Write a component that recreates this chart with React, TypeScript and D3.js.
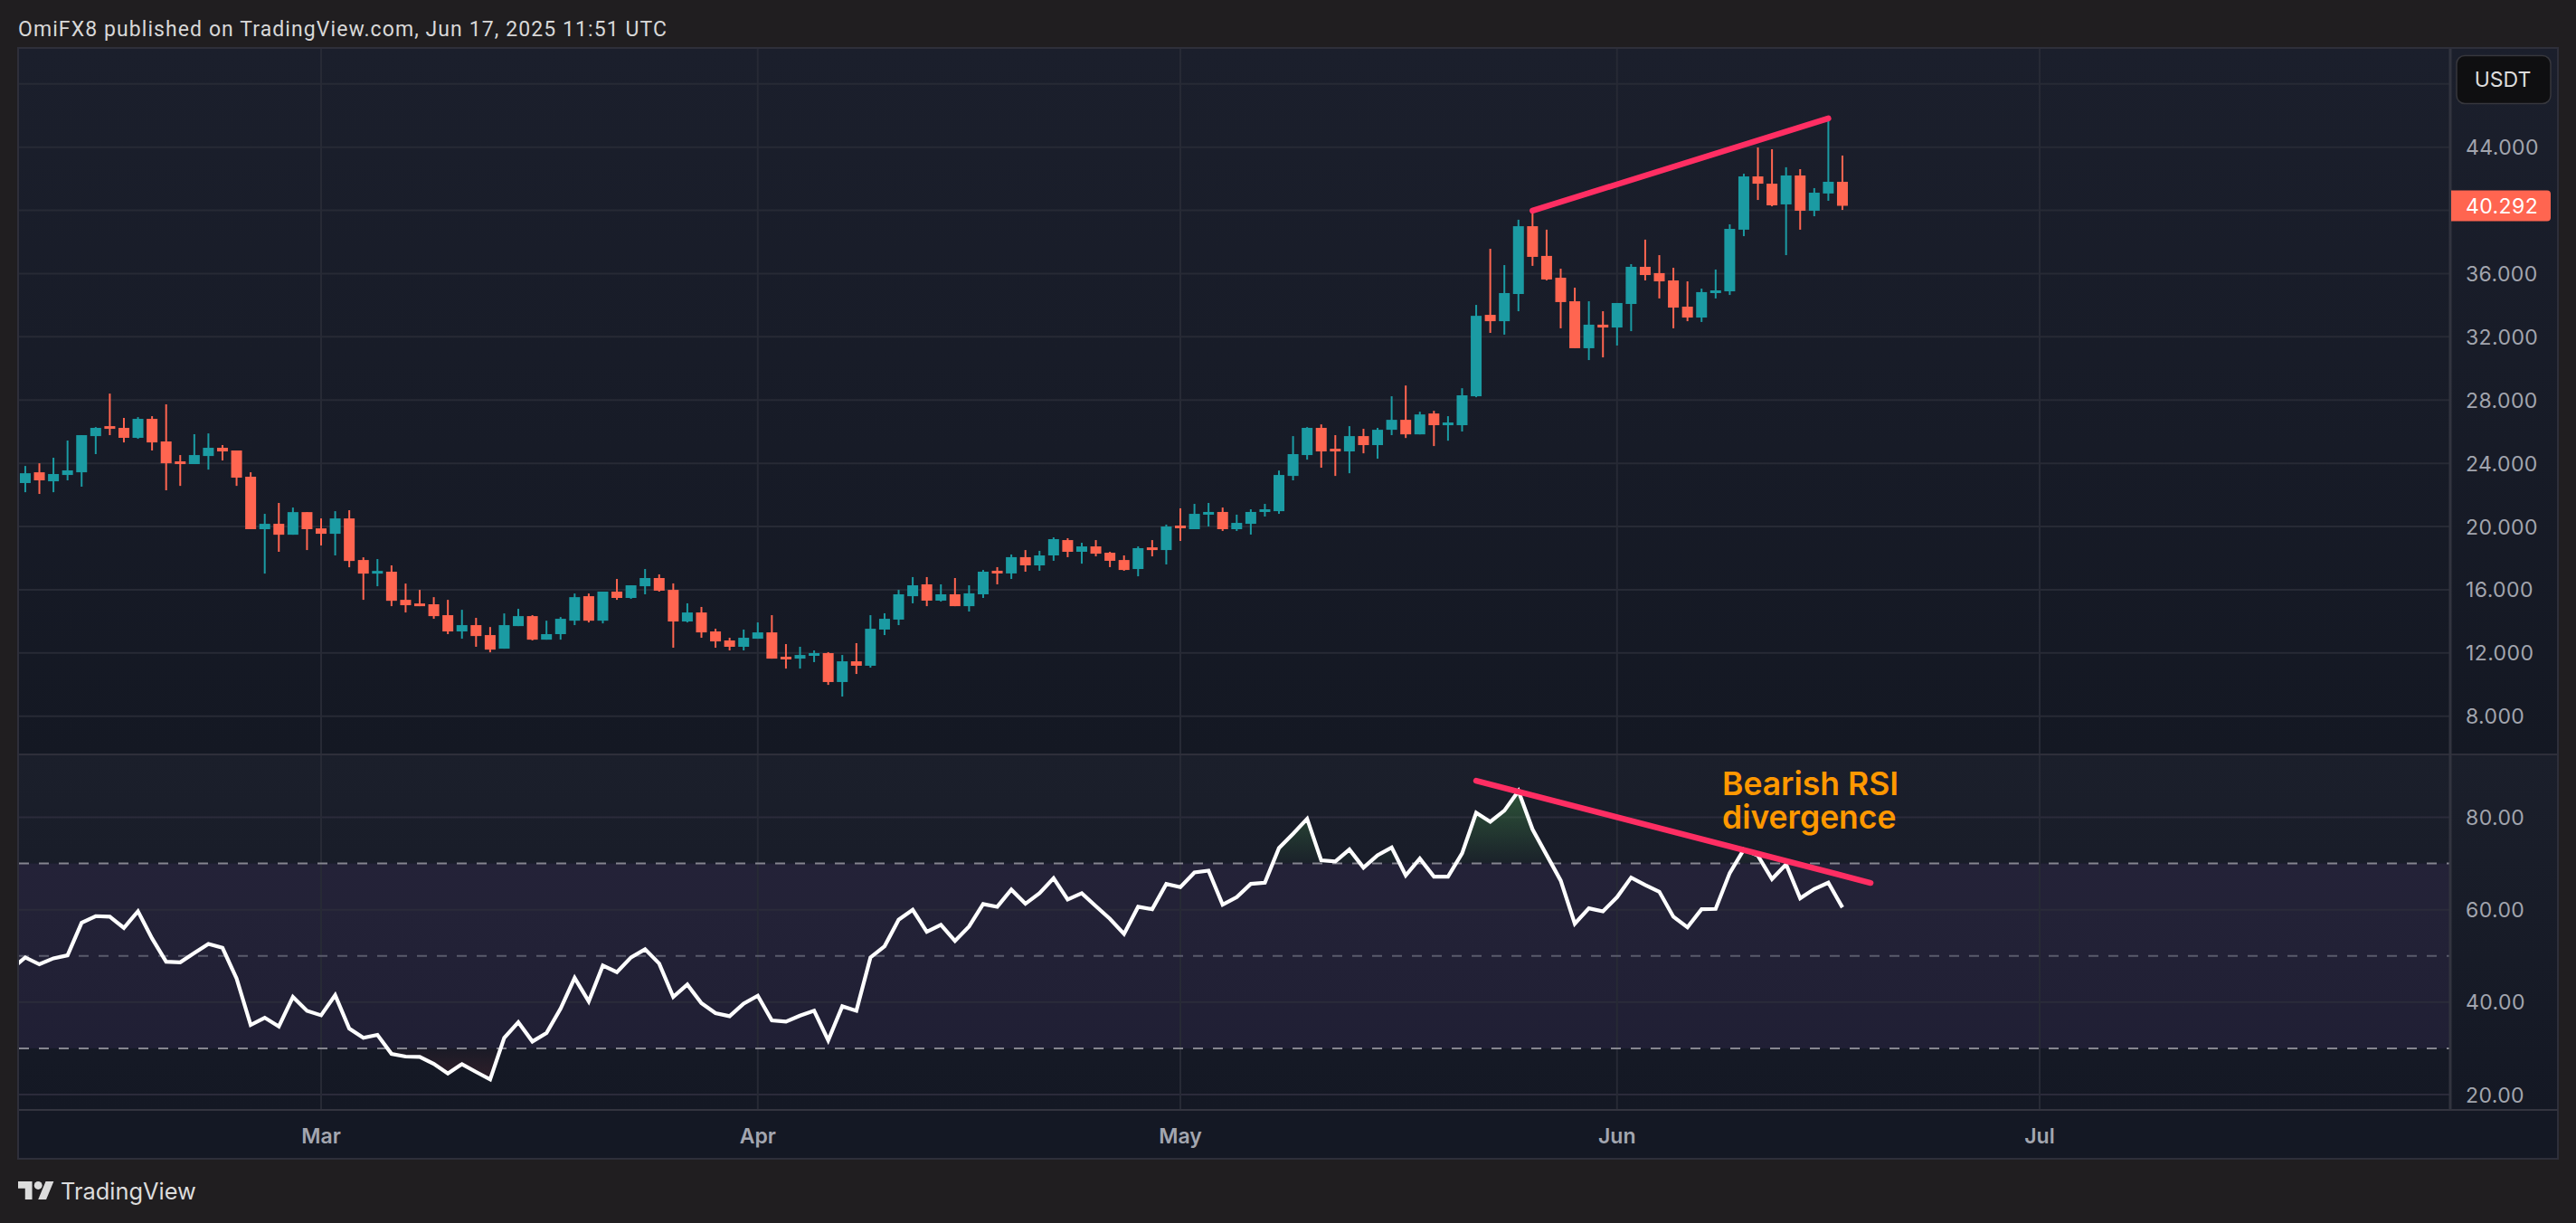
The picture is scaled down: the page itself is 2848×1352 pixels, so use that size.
import React from "react";
import * as d3 from "d3";

const firstDay = Date.UTC(2025, 1, 8);
const DAY = 86400000;

const opens = [22.75,23.43,22.86,23.26,23.43,25.72,26.35,26.24,25.61,26.81,
25.38,24.12,23.95,24.46,24.98,24.81,23.15,19.83,20.17,19.48,
20.91,19.88,19.54,20.51,17.88,17.08,17.14,15.36,15.13,15.08,
14.39,13.36,13.76,13.13,12.27,13.70,14.33,12.84,13.19,14.04,
15.59,14.04,15.88,15.48,16.22,16.74,15.99,13.99,14.56,13.36,
12.79,12.39,12.90,13.30,11.76,11.64,11.82,11.99,10.16,11.47,
11.19,13.48,14.11,15.59,16.34,15.31,15.71,14.96,15.71,17.20,
17.03,18.06,17.54,18.17,19.14,18.40,18.74,18.34,17.88,17.31,
18.68,18.51,20.06,19.83,20.75,20.92,19.83,20.17,20.98,20.97,
23.20,24.52,26.24,24.92,24.75,25.72,25.15,26.12,26.75,25.83,
27.15,26.46,26.41,28.24,33.39,32.99,34.71,39.00,37.12,35.74,
34.25,31.28,32.77,32.59,34.08,36.43,36.03,35.57,33.91,33.22,
34.83,34.88,38.78,42.15,41.69,40.38,42.21,39.98,41.07,41.81];

const closes = [23.37,22.92,23.32,23.55,25.78,26.24,26.24,25.61,26.81,25.32,
24.00,24.00,24.52,24.98,24.75,23.09,19.83,20.17,19.48,20.91,
19.83,19.54,20.51,17.82,17.02,17.19,15.30,15.02,15.02,14.33,
13.36,13.76,13.07,12.21,13.76,14.33,12.84,13.19,14.16,15.53,
14.04,15.88,15.48,16.28,16.74,15.94,13.99,14.56,13.30,12.73,
12.39,12.96,13.30,11.64,11.64,11.87,11.99,10.16,11.47,11.19,
13.53,14.16,15.71,16.28,15.31,15.71,14.96,15.77,17.14,17.08,
18.06,17.54,18.17,19.20,18.40,18.74,18.28,17.83,17.25,18.63,
18.57,20.00,19.94,20.80,20.92,19.83,20.23,20.92,21.09,23.26,
24.58,26.24,24.75,24.80,25.72,25.15,26.12,26.75,25.83,27.09,
26.41,26.58,28.30,33.33,32.99,34.77,39.00,37.06,35.63,34.20,
31.28,32.77,32.59,34.14,36.43,35.91,35.51,33.85,33.22,34.83,
34.94,38.83,42.15,41.69,40.32,42.21,39.98,41.12,41.81,40.292];

const highs = [23.83,24.00,24.35,25.44,25.78,26.29,28.41,26.87,26.92,26.98,
27.73,24.52,25.84,25.89,25.15,24.81,23.43,20.80,21.49,21.20,
20.91,20.51,20.97,21.03,18.05,17.94,17.54,16.39,15.99,15.53,
15.36,14.73,14.22,13.64,14.50,14.79,14.39,14.04,14.27,15.76,
15.76,15.88,16.68,16.28,17.31,16.97,16.40,15.14,14.91,13.53,
12.96,13.48,13.93,14.39,12.56,12.39,12.16,12.05,11.87,12.62,
14.39,14.51,15.99,16.80,16.80,16.34,16.74,16.28,17.25,17.43,
18.23,18.51,18.46,19.31,19.26,18.97,19.14,18.40,18.17,18.74,
19.14,20.12,21.15,21.43,21.49,21.20,20.75,21.09,21.43,23.54,
25.72,26.29,26.46,25.78,26.35,26.18,26.24,28.24,28.92,27.26,
27.32,26.98,28.75,34.02,37.57,36.54,39.41,39.98,38.78,36.31,
35.11,34.25,33.62,34.14,36.60,38.15,37.17,36.37,35.51,35.05,
36.26,39.12,42.32,43.98,43.87,42.73,42.61,41.41,45.82,43.47];

const lows = [22.17,22.06,22.17,22.92,22.52,24.58,25.78,25.32,25.55,24.81,
22.29,22.57,23.95,23.60,24.18,22.57,19.83,17.02,18.40,19.48,
18.51,18.80,18.17,17.42,15.36,16.22,14.96,14.56,14.96,14.16,
13.19,12.90,12.39,12.04,12.27,13.70,12.79,12.84,12.84,13.76,
13.93,13.87,15.36,15.42,15.71,15.88,12.33,13.93,12.96,12.33,
12.16,12.16,12.90,11.64,11.01,11.01,11.42,9.98,9.24,10.67,
11.07,13.13,13.76,15.14,14.96,15.25,14.96,14.62,15.48,16.34,
16.68,17.14,17.20,17.83,18.06,17.65,18.11,17.43,17.20,16.85,
18.11,17.60,19.09,19.83,20.00,19.72,19.72,19.49,20.63,20.80,
22.92,24.23,23.72,23.20,23.37,24.63,24.29,25.78,25.60,25.83,
25.09,25.43,26.01,28.18,32.25,32.14,33.62,36.49,35.57,32.54,
31.28,30.53,30.70,31.45,32.36,35.57,34.43,32.54,32.99,32.94,
34.43,34.65,38.37,40.66,40.26,37.17,38.78,39.63,40.61,40.03];

// starts one day before the first visible candle; that point is clipped by the pane
const rsiFirstDay = Date.UTC(2025, 1, 7);
const rsi = [47.13,49.68,48.18,49.48,50.13,57.18,58.61,58.48,56.07,59.66,53.79,
48.76,48.63,50.66,52.61,51.76,45.11,35.07,36.63,34.74,41.13,
38.13,37.15,41.52,34.28,32.26,32.91,28.80,28.22,28.15,26.65,
24.56,26.59,24.89,23.26,32.26,35.65,31.48,33.30,38.59,45.24,
40.15,47.92,46.48,49.68,51.44,48.37,41.13,43.81,39.76,37.61,
36.95,39.69,41.39,36.04,35.78,37.08,38.13,31.74,39.11,38.13,
49.67,52.09,57.83,59.98,55.22,56.72,53.26,56.39,61.22,60.63,
64.35,61.29,63.57,66.83,62.20,63.57,60.76,58.02,54.76,60.63,
60.11,65.59,64.87,68.07,68.46,61.09,62.72,65.59,65.85,73.35,
76.42,79.68,70.68,70.42,73.03,69.11,71.79,73.48,67.42,71.07,
67.16,67.16,72.18,80.98,79.03,81.44,85.68,77.40,71.85,66.31,
56.98,60.31,59.65,62.72,66.96,65.33,63.89,58.48,56.20,60.11,
60.18,67.94,73.03,71.72,66.63,69.83,62.46,64.48,65.85,60.50];

const priceTicks = [48, 44, 40, 36, 32, 28, 24, 20, 16, 12, 8];
const priceLabels = ["44.000","40.000","36.000","32.000","28.000","24.000","20.000","16.000","12.000","8.000"];
const rsiTicks = [80, 60, 40, 20];
const rsiBands = [70, 50, 30];
const monthLabels = ["Mar", "Apr", "May", "Jun", "Jul"];
const monthDates = [Date.UTC(2025,2,1), Date.UTC(2025,3,1), Date.UTC(2025,4,1), Date.UTC(2025,5,1), Date.UTC(2025,6,1)];
const lastPrice = 40.292;
const priceTrendDates = [Date.UTC(2025,4,26), Date.UTC(2025,5,16)];
const priceTrendValues = [39.98, 45.82];
const rsiTrendDates = [Date.UTC(2025,4,22), Date.UTC(2025,5,19)];
const rsiTrendValues = [87.9, 65.8];
const headline = "OmiFX8 published on TradingView.com, Jun 17, 2025 11:51 UTC";
const annotation = ["Bearish RSI", "divergence"];

const L = 21, R = 2709, FR = 2828, T = 54, SEP = 834, AX = 1227, FB = 1281;
const TEAL = "#1b9ba3", RED = "#ff6550", FONT = "Inter, sans-serif";

const x = d3.scaleUtc().domain([monthDates[0], monthDates[4]]).range([355, 2255]);
const yP = d3.scaleLinear().domain([8, 44]).range([791.7, 162.7]);
const yR = d3.scaleLinear().domain([20, 80]).range([1210, 903.5]);

const dayOf = (i: number) => firstDay + i * DAY;
const rsiPts = rsi.map((v, i) => [rsiFirstDay + i * DAY, v] as [number, number]);
const line = d3.line<[number, number]>().x(d => x(d[0])).y(d => yR(d[1]));
const areaTop = d3.area<[number, number]>().x(d => x(d[0])).y0(yR(70)).y1(d => yR(d[1]));
const areaBot = d3.area<[number, number]>().x(d => x(d[0])).y0(yR(30)).y1(d => yR(d[1]));

export default function App() {
  return (
    <svg width={2848} height={1352} viewBox="0 0 2848 1352"
      style={{ position: "absolute", left: 0, top: 0, display: "block" }} fontFamily={FONT}>
      <defs>
        <linearGradient id="bgTop" x1="0" y1="0" x2="0" y2="1">
          <stop offset="0" stopColor="#1b1f2c" />
          <stop offset="1" stopColor="#141823" />
        </linearGradient>
        <linearGradient id="bgRsi" x1="0" y1="0" x2="0" y2="1">
          <stop offset="0" stopColor="#1b1f2b" />
          <stop offset="1" stopColor="#141824" />
        </linearGradient>
        <linearGradient id="greenFill" gradientUnits="userSpaceOnUse" x1="0" y1={yR(86)} x2="0" y2={yR(70)}>
          <stop offset="0" stopColor="#4caf50" stopOpacity="0.38" />
          <stop offset="1" stopColor="#4caf50" stopOpacity="0.03" />
        </linearGradient>
        <linearGradient id="redFill" gradientUnits="userSpaceOnUse" x1="0" y1={yR(30)} x2="0" y2={yR(20)}>
          <stop offset="0" stopColor="#ff5252" stopOpacity="0.02" />
          <stop offset="1" stopColor="#ff5252" stopOpacity="0.16" />
        </linearGradient>
        <clipPath id="pricePane"><rect x={L} y={T} width={R - L} height={SEP - T} /></clipPath>
        <clipPath id="rsiPane"><rect x={L} y={SEP} width={R - L} height={AX - SEP} /></clipPath>
        <clipPath id="above70"><rect x={L} y={SEP} width={R - L} height={yR(70) - SEP} /></clipPath>
        <clipPath id="below30"><rect x={L} y={yR(30)} width={R - L} height={AX - yR(30)} /></clipPath>
      </defs>

      <rect width={2848} height={1352} fill="#201e20" />
      <rect x={L} y={T} width={FR - L} height={SEP - T} fill="url(#bgTop)" />
      <rect x={L} y={SEP} width={FR - L} height={AX - SEP} fill="url(#bgRsi)" />
      <rect x={L} y={AX} width={FR - L} height={FB - AX} fill="#141824" />

      {/* RSI band */}
      <rect x={L} y={yR(70)} width={R - L} height={yR(30) - yR(70)} fill="#8455bd" fillOpacity={0.105} />

      {/* grid */}
      <g stroke="#272a35" strokeWidth={2} clipPath="url(#pricePane)">
        {priceTicks.map(t => <line key={t} x1={L} x2={R} y1={yP(t)} y2={yP(t)} />)}
      </g>
      <g stroke="#2b2b3a" strokeWidth={2} clipPath="url(#rsiPane)">
        {rsiTicks.map(t => <line key={t} x1={L} x2={R} y1={yR(t)} y2={yR(t)} />)}
      </g>
      <g stroke="#272a35" strokeWidth={2}>
        {monthDates.map(d => <line key={d} x1={x(d)} x2={x(d)} y1={T} y2={AX} />)}
      </g>

      {/* candles */}
      <g clipPath="url(#pricePane)">
        {opens.map((o, i) => {
          const c = closes[i];
          const col = c >= o ? TEAL : RED;
          const cx = x(dayOf(i));
          const top = yP(Math.max(o, c));
          const h = Math.max(3, yP(Math.min(o, c)) - top);
          return (
            <g key={i} fill={col}>
              <rect x={cx - 1} width={2} y={yP(highs[i])} height={yP(lows[i]) - yP(highs[i])} />
              <rect x={cx - 6} width={12} y={top} height={h} />
            </g>
          );
        })}
      </g>

      {/* RSI */}
      <g clipPath="url(#above70)"><path d={areaTop(rsiPts) || ""} fill="url(#greenFill)" /></g>
      <g clipPath="url(#below30)"><path d={areaBot(rsiPts) || ""} fill="url(#redFill)" /></g>
      {rsiBands.map(b => (
        <line key={b} x1={L} x2={R} y1={yR(b)} y2={yR(b)} stroke={b === 50 ? "#5a5b6c" : "#85858f"} strokeWidth={2} strokeDasharray="11 11" />
      ))}
      <path d={line(rsiPts) || ""} fill="none" stroke="#ffffff" strokeWidth={4.2} strokeLinejoin="miter" clipPath="url(#rsiPane)" />

      {/* trend lines */}
      <line x1={x(priceTrendDates[0])} y1={yP(priceTrendValues[0])} x2={x(priceTrendDates[1])} y2={yP(priceTrendValues[1])}
        stroke="#ff2e63" strokeWidth={6.5} strokeLinecap="round" />
      <line x1={x(rsiTrendDates[0])} y1={yR(rsiTrendValues[0])} x2={x(rsiTrendDates[1])} y2={yR(rsiTrendValues[1])}
        stroke="#ff2e63" strokeWidth={6.5} strokeLinecap="round" />

      <text fill="#ff9800" fontSize={35.5} fontWeight={600}>
        <tspan x={1904} y={879}>{annotation[0]}</tspan>
        <tspan x={1904} y={916}>{annotation[1]}</tspan>
      </text>

      {/* frame */}
      <g stroke="#2e2f3a" strokeWidth={2} fill="none">
        <rect x={L - 1} y={T - 1} width={FR - L + 1} height={FB - T + 1} />
        <line x1={L} x2={FR} y1={SEP} y2={SEP} />
        <line x1={L} x2={FR} y1={AX} y2={AX} stroke="#33343f" />
        <line x1={R} x2={R} y1={T} y2={AX} strokeWidth={3} stroke="#32343f" />
      </g>

      {/* axis labels */}
      <g fill="#a2a5ae" fontSize={23} textAnchor="start" letterSpacing={0.4}>
        {priceLabels.map(l => <text key={l} x={2726} y={yP(+l) + 8.5}>{l}</text>)}
        {rsiTicks.map(t => <text key={t} x={2726} y={yR(t) + 8.5}>{t.toFixed(2)}</text>)}
      </g>
      <rect x={2716} y={61.5} width={104} height={53} rx={9} fill="#0f0f11" stroke="#37373d" strokeWidth={1.5} />
      <text x={2767} y={96} fill="#dcdcdc" fontSize={23} textAnchor="middle">USDT</text>
      <path d={`M2710 ${yP(lastPrice) - 17}H2816a4 4 0 0 1 4 4V${yP(lastPrice) + 13}a4 4 0 0 1 -4 4H2710Z`} fill={RED} />
      <text x={2726} y={yP(lastPrice) + 8.5} fill="#ffffff" fontSize={23} textAnchor="start" letterSpacing={0.4}>{lastPrice.toFixed(3)}</text>
      <g fill="#a3a6b0" fontSize={23} fontWeight={600} textAnchor="middle">
        {monthLabels.map((m, i) => <text key={m} x={x(monthDates[i])} y={1264}>{m}</text>)}
      </g>

      {/* header / footer */}
      <text x={20} y={40} fill="#d8d8d8" fontSize={23} fontFamily="Roboto, sans-serif" textLength={717}>{headline}</text>
      <g transform="translate(20 1301.6) scale(1.11)" fill="#dcdcdc">
        <path d="M14 22H7V11H0V4h14v18zM28 22h-8l7.5-18h8L28 22z" />
        <circle cx={20} cy={8} r={4} />
      </g>
      <text x={67} y={1326} fill="#dcdcdc" fontSize={25.4}>TradingView</text>
    </svg>
  );
}
